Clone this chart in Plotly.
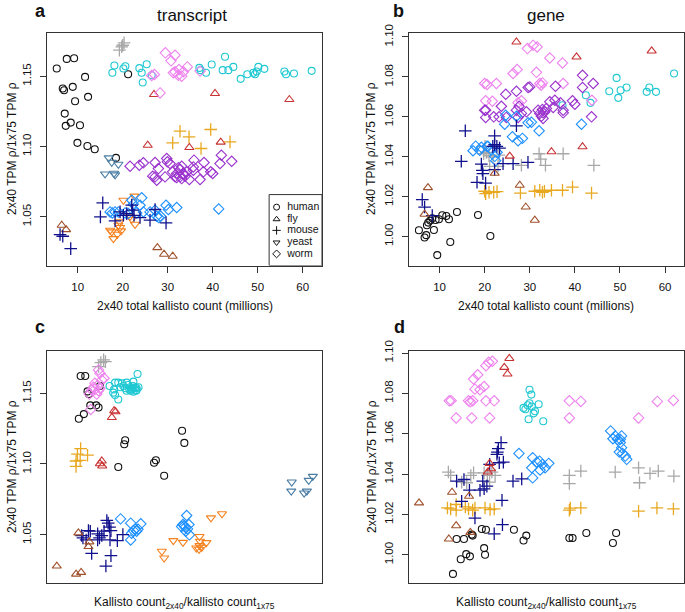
import plotly.graph_objects as go

# ---------------- data ----------------
# Panel a: transcript, x = 2x40 total kallisto count (millions), y = TPM rho ratio
a_human1_x = [5.33, 7.56, 9.19, 6.67, 6.96, 8.89, 11.63, 12.3, 9.41, 7.11, 8.44, 7.33, 10.5, 9.93, 12.15, 13.78, 18.5, 21.2]
a_human1_y = [1.1555, 1.1623, 1.1628, 1.1412, 1.1400, 1.1424, 1.1495, 1.1353, 1.1322, 1.1234, 1.1170, 1.1147, 1.1151, 1.1026, 1.1004, 1.0981, 1.0919, 1.1514]
a_human2_x = [17.70, 18.15, 20.15, 20.59, 23.70, 24.22, 25.33, 24.44, 26.44, 37.04, 37.33, 38.52, 39.78, 42.74, 42.22, 43.48, 44.59, 46.22, 47.70, 49.04, 49.41, 49.78, 50.15, 51.48, 55.93, 56.30, 58.07, 62.0]
a_human2_y = [1.1524, 1.1576, 1.1555, 1.1571, 1.1557, 1.1524, 1.1585, 1.1455, 1.1507, 1.1559, 1.1543, 1.1524, 1.1583, 1.1638, 1.1543, 1.1543, 1.1566, 1.1481, 1.1514, 1.1524, 1.1514, 1.1533, 1.1566, 1.1552, 1.1533, 1.1514, 1.1519, 1.1538]
a_fly1_x = [26.96, 40.52, 57.04, 25.56, 34.81, 41.78]
a_fly1_y = [1.1370, 1.1377, 1.1334, 1.1009, 1.0993, 1.1031]
a_fly2_x = [6.44, 7.41, 27.70, 29.19, 31.11]
a_fly2_y = [1.0440, 1.0409, 1.0281, 1.0234, 1.0220]
a_mouse1_x = [19.26, 19.78, 20.3, 20.0]
a_mouse1_y = [1.1685, 1.1709, 1.1737, 1.1720]
a_mouse2_x = [32.74, 34.74, 31.11, 39.56, 37.41, 43.85]
a_mouse2_y = [1.1109, 1.1069, 1.1026, 1.1121, 1.0986, 1.1033]
a_mouse3_x = [15.56, 15.04, 18.30, 19.41, 20.15, 22.0, 22.22, 22.52, 23.85, 26.07, 27.19, 29.63, 8.44, 6.67, 6.07, 20.89]
a_mouse3_y = [1.0599, 1.0500, 1.0471, 1.0535, 1.0511, 1.0583, 1.0547, 1.0511, 1.0495, 1.0476, 1.0552, 1.0457, 1.0274, 1.0362, 1.0374, 1.0523]
a_yeast1_x = [16.89, 17.56, 19.04, 16.07, 18.07, 18.3]
a_yeast1_y = [1.0919, 1.0888, 1.0874, 1.0805, 1.0810, 1.0798]
a_yeast2_x = [20.15, 22.59, 17.19, 17.56, 17.93, 19.04, 19.41, 19.63, 19.26, 21.63, 22.0, 22.74, 18.81]
a_yeast2_y = [1.0618, 1.0647, 1.0405, 1.0393, 1.0345, 1.0440, 1.0424, 1.0400, 1.0464, 1.0504, 1.0483, 1.0447, 1.0376]
a_worm1_x = [29.48, 31.63, 30.74, 34.37, 31.63, 32.52, 32.37, 33.11, 33.48, 31.26, 26.44, 27.04, 28.30, 37.19]
a_worm1_y = [1.1666, 1.1649, 1.1609, 1.1566, 1.1531, 1.1547, 1.1507, 1.1500, 1.1531, 1.1524, 1.1505, 1.1512, 1.1381, 1.1536]
a_worm2_x = [21.63, 23.70, 24.59, 27.19, 27.93, 29.78, 29.93, 30.52, 26.67, 27.56, 27.19, 29.41, 31.11, 32.37, 32.74, 33.11, 32.0, 31.63, 32.74, 33.48, 33.85, 34.22, 34.81, 35.70, 35.85, 35.70, 38.07, 37.93, 37.19, 39.56, 40.0, 41.93, 41.63, 44.22, 32.0, 33.11]
a_worm2_y = [1.0860, 1.0867, 1.0884, 1.0886, 1.0843, 1.0914, 1.0891, 1.0879, 1.0789, 1.0760, 1.0784, 1.0784, 1.0820, 1.0850, 1.0836, 1.0860, 1.0808, 1.0784, 1.0784, 1.0808, 1.0789, 1.0820, 1.0765, 1.0831, 1.0903, 1.0855, 1.0886, 1.0820, 1.0765, 1.0820, 1.0808, 1.0938, 1.0879, 1.0895, 1.0779, 1.0772]
a_worm3_x = [17.19, 17.70, 18.30, 19.04, 22.0, 22.37, 24.22, 23.85, 24.59, 26.07, 27.19, 27.56, 28.0, 28.44, 29.63, 30.15, 32.0, 41.33, 21.26, 23.11, 20.52]
a_worm3_y = [1.0535, 1.0528, 1.0535, 1.0535, 1.0618, 1.0590, 1.0635, 1.0582, 1.0535, 1.0535, 1.0547, 1.0504, 1.0495, 1.0504, 1.0582, 1.0552, 1.0566, 1.0556, 1.0523, 1.0528, 1.0528]

# Panel b: gene, same x
b_human1_x = [5.41, 6.67, 7.04, 9.48, 8.74, 7.19, 7.48, 7.93, 8.37, 9.11, 9.85, 10.59, 11.48, 12.07, 12.37, 13.85, 18.52, 21.26]
b_human1_y = [1.0032, 0.9995, 1.0007, 0.9907, 1.0033, 1.0057, 1.0070, 1.0080, 1.0092, 1.0083, 1.0087, 1.0107, 1.0103, 1.0087, 0.9973, 1.0123, 1.0108, 1.0003]
b_human2_x = [49.26, 47.63, 49.63, 50.15, 51.48, 56.52, 55.93, 58.0, 62.0, 42.44, 43.48, 37.26]
b_human2_y = [1.0795, 1.0728, 1.0695, 1.0733, 1.0747, 1.0747, 1.0725, 1.0725, 1.0817, 1.0708, 1.0670, 1.0658]
b_fly1_x = [27.04, 40.37, 57.04, 41.70, 34.81, 25.56]
b_fly1_y = [1.0975, 1.0900, 1.0930, 1.0450, 1.0425, 1.0403]
b_fly2_x = [22.22, 7.41, 27.78, 6.67, 29.11, 31.11]
b_fly2_y = [1.0317, 1.0245, 1.0257, 1.0112, 1.0148, 1.0082]
b_mouse1_x = [19.78, 20.37, 20.96, 21.85, 23.19, 21.11, 22.96, 28.15, 32.07, 32.44, 33.48, 37.41, 44.22, 20.07]
b_mouse1_y = [1.0415, 1.0422, 1.0405, 1.0398, 1.0408, 1.0352, 1.0352, 1.0357, 1.0415, 1.0388, 1.0357, 1.0415, 1.0357, 1.0452]
b_mouse2_x = [20.0, 20.22, 20.96, 22.0, 22.74, 27.93, 31.11, 32.22, 32.81, 33.26, 34.81, 37.26, 39.48, 43.7]
b_mouse2_y = [1.0227, 1.0215, 1.0222, 1.0222, 1.0225, 1.0218, 1.0227, 1.0232, 1.0222, 1.0227, 1.0232, 1.0232, 1.0248, 1.0218]
b_mouse3_x = [15.7, 27.04, 22.2, 22.2, 22.7, 23.3, 21.8, 14.81, 6.15, 6.67, 8.37, 18.3, 20.2, 19.26, 19.48, 19.6, 22.2, 24.07, 26.3, 29.6]
b_mouse3_y = [1.0530, 1.0555, 1.0505, 1.0460, 1.0452, 1.0443, 1.0452, 1.0377, 1.0185, 1.0148, 1.0105, 1.0272, 1.0268, 1.0363, 1.0332, 1.0315, 1.0335, 1.0365, 1.0365, 1.0372]
b_worm1_x = [29.48, 30.74, 31.63, 34.44, 37.26, 26.30, 27.19, 31.48, 20.0, 20.52, 22.59, 32.22, 32.81, 32.52, 37.41, 20.22, 21.70, 28.15, 27.41, 43.78]
b_worm1_y = [1.0942, 1.0958, 1.0950, 1.0895, 1.0870, 1.0817, 1.0837, 1.0823, 1.0767, 1.0762, 1.0767, 1.0767, 1.0770, 1.0758, 1.0767, 1.0680, 1.0678, 1.0680, 1.0670, 1.0683]
b_worm2_x = [41.70, 44.07, 41.70, 35.70, 30.0, 29.63, 27.04, 24.67, 23.70, 27.63, 20.0, 20.22, 22.0, 23.19, 27.04, 29.26, 28.15, 27.41, 31.85, 32.81, 33.33, 32.22, 32.59, 33.70, 34.44, 35.56, 36.81, 35.19, 39.48, 40.0, 37.41, 37.41, 43.70, 20.22, 24.81, 32.96, 32.96]
b_worm2_y = [1.0808, 1.0767, 1.0747, 1.0753, 1.0750, 1.0747, 1.0728, 1.0713, 1.0653, 1.0653, 1.0633, 1.0597, 1.0600, 1.0600, 1.0633, 1.0625, 1.0617, 1.0597, 1.0633, 1.0637, 1.0625, 1.0617, 1.0603, 1.0642, 1.0675, 1.0683, 1.0670, 1.0647, 1.0680, 1.0663, 1.0633, 1.0620, 1.0600, 1.0633, 1.0597, 1.0620, 1.0592]
b_worm3_x = [24.44, 24.67, 27.04, 29.63, 30.37, 32.07, 26.15, 27.41, 28.37, 41.48, 18.0, 20.52, 17.41, 18.89, 21.48, 22.22, 22.74, 22.44, 20.74, 19.26]
b_worm3_y = [1.0563, 1.0608, 1.0603, 1.0570, 1.0573, 1.0530, 1.0500, 1.0480, 1.0492, 1.0563, 1.0453, 1.0453, 1.0430, 1.0433, 1.0435, 1.0402, 1.0422, 1.0380, 1.0452, 1.0447]

# Panel c: transcript, x = kallisto count ratio 2x40 / 1x75
c_human1_x = [0.974, 0.984, 0.989, 0.992, 1.016, 1.008, 0.995, 1.013, 0.981, 0.970, 1.071, 1.069, 1.056, 1.134, 1.138, 1.156, 1.195, 1.200]
c_human1_y = [1.1623, 1.1623, 1.1514, 1.1495, 1.1552, 1.1415, 1.1415, 1.1400, 1.1353, 1.1320, 1.1168, 1.1140, 1.0979, 1.1009, 1.1026, 1.0917, 1.1235, 1.1149]
c_human2_x = [1.037, 1.049, 1.056, 1.064, 1.074, 1.078, 1.082, 1.085, 1.089, 1.093, 1.096, 1.098, 1.089, 1.047, 1.049, 1.056, 1.045, 1.071, 1.074, 1.089, 1.083, 1.096, 1.100, 1.067, 1.060, 1.080, 1.088, 1.095]
c_human2_y = [1.1552, 1.1576, 1.1576, 1.1571, 1.1576, 1.1559, 1.1543, 1.1528, 1.1536, 1.1543, 1.1536, 1.1637, 1.1583, 1.1528, 1.1488, 1.1457, 1.1505, 1.1536, 1.1519, 1.1512, 1.1519, 1.1524, 1.1543, 1.1552, 1.1543, 1.1528, 1.1552, 1.1519]
c_fly1_x = [1.047, 1.050, 1.042, 1.020, 1.016, 1.021]
c_fly1_y = [1.1377, 1.1370, 1.1329, 1.1021, 1.1002, 1.0986]
c_fly2_x = [0.922, 0.969, 0.993, 0.991, 0.964, 0.975]
c_fly2_y = [1.0277, 1.0512, 1.0448, 1.0415, 1.0220, 1.0232]
c_mouse1_x = [1.013, 1.018, 1.024, 1.028]
c_mouse1_y = [1.1690, 1.1718, 1.1737, 1.1725]
c_mouse2_x = [0.967, 0.974, 0.973, 0.964, 0.989, 0.964]
c_mouse2_y = [1.1069, 1.1109, 1.1026, 1.0983, 1.1062, 1.1021]
c_mouse3_x = [0.976, 0.991, 0.979, 0.986, 0.998, 1.011, 1.015, 1.011, 1.025, 1.031, 1.034, 1.037, 1.040, 1.020, 1.038, 1.054, 1.066, 1.040, 1.029, 0.995]
c_mouse3_y = [1.0493, 1.0528, 1.0476, 1.0462, 1.0367, 1.0505, 1.0476, 1.0462, 1.0524, 1.0600, 1.0581, 1.0552, 1.0528, 1.0493, 1.0462, 1.0457, 1.0500, 1.0351, 1.0277, 1.0524]
c_yeast1_x = [1.434, 1.433, 1.461, 1.467, 1.471, 1.480]
c_yeast1_y = [1.0872, 1.0808, 1.0794, 1.0808, 1.0884, 1.0912]
c_yeast2_x = [1.151, 1.156, 1.176, 1.197, 1.233, 1.234, 1.226, 1.232, 1.238, 1.248, 1.233, 1.258, 1.282]
c_yeast2_y = [1.0382, 1.0334, 1.0457, 1.0445, 1.0486, 1.0453, 1.0405, 1.0396, 1.0410, 1.0443, 1.0422, 1.0618, 1.0647]
c_worm1_x = [1.013, 1.016, 1.025, 1.005, 1.011, 1.002, 0.998, 1.013, 1.016, 0.993, 0.996, 1.009, 1.005, 1.020]
c_worm1_y = [1.1666, 1.1642, 1.1607, 1.1571, 1.1557, 1.1543, 1.1524, 1.1519, 1.1536, 1.1495, 1.1386, 1.1495, 1.1528, 1.1595]
c_worm3_x = [1.061, 1.083, 1.085, 1.089, 1.093, 1.096, 1.099, 1.105, 1.083, 1.205, 1.197, 1.202, 1.207, 1.210, 1.211, 1.194, 1.203, 1.200]
c_worm3_y = [1.0611, 1.0581, 1.0509, 1.0528, 1.0538, 1.0524, 1.0538, 1.0576, 1.0462, 1.0635, 1.0571, 1.0552, 1.0540, 1.0571, 1.0498, 1.0557, 1.0524, 1.0562]

# Panel d: gene, x = kallisto count ratio
d_human1_x = [0.997, 1.014, 1.026, 1.034, 1.038, 1.005, 1.021, 1.040, 1.060, 1.069, 1.067, 1.065, 1.130, 1.151, 1.157, 1.251, 1.258, 1.288, 1.346, 1.353]
d_human1_y = [0.9905, 0.9978, 1.0003, 0.9992, 1.0100, 1.0078, 1.0078, 1.0095, 1.0128, 1.0124, 1.0000, 1.0033, 1.0124, 1.0071, 1.0095, 1.0083, 1.0083, 1.0108, 1.0058, 1.0108]
d_human2_x = [1.164, 1.168, 1.151, 1.155, 1.160, 1.164, 1.169, 1.176, 1.184, 1.173, 1.162, 1.194]
d_human2_y = [1.0818, 1.0794, 1.0728, 1.0721, 1.0741, 1.0751, 1.0735, 1.0711, 1.0746, 1.0701, 1.0672, 1.0662]
d_fly1_x = [1.120, 1.109, 1.116, 1.077, 1.080, 1.073]
d_fly1_y = [1.0973, 1.0929, 1.0896, 1.0453, 1.0426, 1.0410]
d_fly2_x = [0.923, 0.995, 1.032, 1.004, 1.035, 0.988]
d_fly2_y = [1.0257, 1.0310, 1.0290, 1.0144, 1.0111, 1.0078]
d_mouse1_x = [0.987, 0.992, 1.016, 1.027, 1.042, 1.036, 1.065, 1.072, 1.082, 1.077, 1.089, 1.251, 1.251, 1.276, 1.351, 1.402, 1.404, 1.427, 1.445, 1.479]
d_mouse1_y = [1.0410, 1.0393, 1.0360, 1.0357, 1.0406, 1.0393, 1.0406, 1.0393, 1.0410, 1.0360, 1.0393, 1.0393, 1.0353, 1.0415, 1.0410, 1.0431, 1.0357, 1.0403, 1.0415, 1.0390]
d_mouse2_x = [0.985, 0.992, 1.004, 1.004, 1.024, 1.031, 1.040, 1.045, 1.067, 1.078, 1.087, 1.251, 1.253, 1.276, 1.402, 1.442, 1.478]
d_mouse2_y = [1.0232, 1.0227, 1.0249, 1.0221, 1.0237, 1.0227, 1.0221, 1.0232, 1.0232, 1.0224, 1.0227, 1.0221, 1.0231, 1.0232, 1.0216, 1.0232, 1.0227]
d_mouse3_x = [1.102, 1.096, 1.094, 1.093, 1.098, 1.107, 1.128, 1.147, 1.005, 1.021, 1.033, 1.016, 1.045, 1.056, 1.065, 1.071, 1.104, 1.105, 1.087, 1.062, 1.077]
d_mouse3_y = [1.0556, 1.0526, 1.0509, 1.0498, 1.0456, 1.0459, 1.0365, 1.0376, 1.0365, 1.0373, 1.0320, 1.0265, 1.0182, 1.0320, 1.0327, 1.0340, 1.0270, 1.0149, 1.0104, 1.0365, 1.0448]
d_worm1_x = [0.989, 0.993, 1.004, 1.031, 1.035, 1.040, 1.038, 1.042, 1.045, 1.051, 1.056, 1.065, 1.069, 1.075, 1.083, 1.069, 1.087, 1.077, 1.251, 1.276, 1.251, 1.402, 1.443, 1.478]
d_worm1_y = [1.0763, 1.0764, 1.0678, 1.0763, 1.0758, 1.0763, 1.0678, 1.0871, 1.0821, 1.0892, 1.0818, 1.0834, 1.0937, 1.0954, 1.0959, 1.0763, 1.0763, 1.0678, 1.0763, 1.0760, 1.0678, 1.0678, 1.0760, 1.0765]
d_worm3_x = [1.141, 1.171, 1.169, 1.171, 1.180, 1.186, 1.187, 1.192, 1.198, 1.206, 1.341, 1.346, 1.351, 1.356, 1.362, 1.365, 1.365, 1.362, 1.367, 1.373, 1.376, 1.360]
d_worm3_y = [1.0502, 1.0481, 1.0431, 1.0381, 1.0459, 1.0464, 1.0420, 1.0448, 1.0431, 1.0453, 1.0614, 1.0575, 1.0589, 1.0572, 1.0572, 1.0589, 1.0531, 1.0556, 1.0502, 1.0489, 1.0473, 1.0509]

legend_labels = ["human", "fly", "mouse", "yeast", "worm"]

# ---------------- styles ----------------
STY = {
    "human1": ("circle-open", 7, "#111111"),
    "human2": ("circle-open", 7, "#1EC8D2"),
    "fly1": ("triangle-up-open", 8, "#C83232"),
    "fly2": ("triangle-up-open", 8, "#A0522D"),
    "mouse1": ("cross-thin-open", 9, "#A8A8A8"),
    "mouse2": ("cross-thin-open", 9, "#E8A820"),
    "mouse3": ("cross-thin-open", 9, "#10108C"),
    "yeast1": ("triangle-down-open", 8, "#4A7DA3"),
    "yeast2": ("triangle-down-open", 8, "#F5821F"),
    "worm1": ("diamond-open", 8, "#EE82EE"),
    "worm2": ("diamond-open", 8, "#9A32CD"),
    "worm3": ("diamond-open", 8, "#1E90FF"),
}

fig = go.Figure()

def add(xa, ya, x, y, key):
    sym, size, col = STY[key]
    lw = 1.3 if sym.startswith("cross") else 1.1
    fig.add_trace(go.Scatter(
        x=x, y=y, xaxis=xa, yaxis=ya, mode="markers", showlegend=False, hoverinfo="skip",
        marker=dict(symbol=sym, size=size, color=col, line=dict(color=col, width=lw))))

panels = {
    ("x", "y"): [(a_human1_x, a_human1_y, "human1"), (a_human2_x, a_human2_y, "human2"),
                 (a_fly1_x, a_fly1_y, "fly1"), (a_fly2_x, a_fly2_y, "fly2"),
                 (a_mouse1_x, a_mouse1_y, "mouse1"), (a_mouse2_x, a_mouse2_y, "mouse2"),
                 (a_yeast1_x, a_yeast1_y, "yeast1"), (a_yeast2_x, a_yeast2_y, "yeast2"),
                 (a_worm1_x, a_worm1_y, "worm1"), (a_worm2_x, a_worm2_y, "worm2"),
                 (a_worm3_x, a_worm3_y, "worm3"), (a_mouse3_x, a_mouse3_y, "mouse3")],
    ("x2", "y2"): [(b_human1_x, b_human1_y, "human1"), (b_human2_x, b_human2_y, "human2"),
                   (b_mouse1_x, b_mouse1_y, "mouse1"), (b_mouse2_x, b_mouse2_y, "mouse2"),
                   (b_worm1_x, b_worm1_y, "worm1"), (b_worm2_x, b_worm2_y, "worm2"),
                   (b_worm3_x, b_worm3_y, "worm3"), (b_mouse3_x, b_mouse3_y, "mouse3"),
                   (b_fly1_x, b_fly1_y, "fly1"), (b_fly2_x, b_fly2_y, "fly2")],
    ("x3", "y3"): [(c_human1_x, c_human1_y, "human1"), (c_human2_x, c_human2_y, "human2"),
                   (c_mouse1_x, c_mouse1_y, "mouse1"), (c_mouse2_x, c_mouse2_y, "mouse2"),
                   (c_worm1_x, c_worm1_y, "worm1"), (c_worm3_x, c_worm3_y, "worm3"),
                   (c_yeast1_x, c_yeast1_y, "yeast1"), (c_yeast2_x, c_yeast2_y, "yeast2"),
                   (c_mouse3_x, c_mouse3_y, "mouse3"),
                   (c_fly1_x, c_fly1_y, "fly1"), (c_fly2_x, c_fly2_y, "fly2")],
    ("x4", "y4"): [(d_human1_x, d_human1_y, "human1"), (d_human2_x, d_human2_y, "human2"),
                   (d_mouse1_x, d_mouse1_y, "mouse1"), (d_mouse2_x, d_mouse2_y, "mouse2"),
                   (d_worm1_x, d_worm1_y, "worm1"), (d_worm3_x, d_worm3_y, "worm3"),
                   (d_mouse3_x, d_mouse3_y, "mouse3"),
                   (d_fly1_x, d_fly1_y, "fly1"), (d_fly2_x, d_fly2_y, "fly2")],
}
for (xa, ya), series in panels.items():
    for x, y, key in series:
        add(xa, ya, x, y, key)

# legend symbols in panel a (overlay axes with unit range)
leg_syms = ["circle-open", "triangle-up-open", "cross-thin-open", "triangle-down-open", "diamond-open"]
leg_y = [0.251, 0.199, 0.151, 0.099, 0.050]
fig.add_trace(go.Scatter(
    x=[0.835] * 5, y=leg_y, xaxis="x5", yaxis="y5", mode="markers+text", showlegend=False,
    hoverinfo="skip", text=["  " + t for t in legend_labels], textposition="middle right",
    textfont=dict(size=10.5, color="#111111", family="Liberation Sans, Arial, sans-serif"),
    marker=dict(symbol=leg_syms, size=6, color="#111111", line=dict(color="#111111", width=1))))

W, H = 685, 612
def fx(p): return p / W
def fy(p): return 1 - p / H

FONT = "Liberation Sans, Arial, Helvetica, sans-serif"
tickfont = dict(size=11.5, color="#111111", family=FONT)

box = dict(showline=True, mirror=True, linecolor="#333333", linewidth=1, showgrid=False,
           zeroline=False, ticks="outside", ticklen=6, tickcolor="#333333", tickwidth=1,
           tickfont=tickfont, automargin=False)

dom_ax = [fx(46.7), fx(322)]
dom_bx = [fx(408.5), fx(683.5)]
dom_top = [fy(265.5), fy(33)]
dom_bot = [fy(583), fy(351)]

fig.update_layout(
    width=W, height=H, margin=dict(l=0, r=0, t=0, b=0),
    paper_bgcolor="white", plot_bgcolor="rgba(0,0,0,0)", showlegend=False,
    font=dict(family=FONT, color="#111111"),
    xaxis=dict(domain=dom_ax, anchor="y", range=[3.1, 64.3], tickvals=[10, 20, 30, 40, 50, 60],
               ticklabelstandoff=5, **box),
    yaxis=dict(domain=dom_top, anchor="x", range=[1.0154, 1.1807], tickvals=[1.05, 1.10, 1.15],
               tickformat=".2f", tickangle=-90, ticklabelstandoff=4, **box),
    xaxis2=dict(domain=dom_bx, anchor="y2", range=[3.1, 64.1], tickvals=[10, 20, 30, 40, 50, 60],
                ticklabelstandoff=5, **box),
    yaxis2=dict(domain=dom_top, anchor="x2", range=[0.9855, 1.102],
                tickvals=[1.00, 1.02, 1.04, 1.06, 1.08, 1.10], tickformat=".2f", tickangle=-90,
                ticklabelstandoff=4, **box),
    xaxis3=dict(domain=dom_ax, anchor="y3", range=[0.9, 1.5], showticklabels=False,
                **{**box, "ticks": ""}),
    yaxis3=dict(domain=dom_bot, anchor="x3", range=[1.0157, 1.180], tickvals=[1.05, 1.10, 1.15],
                tickformat=".2f", tickangle=-90, ticklabelstandoff=4, **box),
    xaxis4=dict(domain=dom_bx, anchor="y4", range=[0.9, 1.5], showticklabels=False,
                **{**box, "ticks": ""}),
    yaxis4=dict(domain=dom_bot, anchor="x4", range=[0.986, 1.101],
                tickvals=[1.00, 1.02, 1.04, 1.06, 1.08, 1.10], tickformat=".2f", tickangle=-90,
                ticklabelstandoff=4, **box),
    xaxis5=dict(domain=dom_ax, anchor="y5", overlaying="x", range=[0, 1], visible=False),
    yaxis5=dict(domain=dom_top, anchor="x5", overlaying="y", range=[0, 1], visible=False),
)

# legend frame
fig.add_shape(type="rect", xref="x5", yref="y5", x0=0.808, x1=1.0, y0=0.0, y1=0.305,
              line=dict(color="#333333", width=1), fillcolor="rgba(0,0,0,0)")

ann = []
def text(x, y, s, size, bold=False, angle=0):
    ann.append(dict(x=fx(x), y=fy(y), xref="paper", yref="paper", text=("<b>%s</b>" % s) if bold else s,
                    showarrow=False, xanchor="center", yanchor="middle", textangle=angle,
                    font=dict(size=size, color="#111111", family=FONT)))

text(40, 11, "a", 18, bold=True)
text(398, 11, "b", 18, bold=True)
text(40, 327, "c", 18, bold=True)
text(399, 327, "d", 18, bold=True)
text(192, 15, "transcript", 17)
text(546, 15, "gene", 17)
text(184.5, 306, "2x40 total kallisto count (millions)", 12)
text(546, 306, "2x40 total kallisto count (millions)", 12)
text(184.5, 603, "Kallisto count<sub>2x40</sub>/kallisto count<sub>1x75</sub>", 12)
text(546, 603, "Kallisto count<sub>2x40</sub>/kallisto count<sub>1x75</sub>", 12)
ytitle = "2x40 TPM ρ/1x75 TPM ρ"
text(12, 149, ytitle, 12, angle=-90)
text(371, 149, ytitle, 12, angle=-90)
text(12, 467, ytitle, 12, angle=-90)
text(372, 467, ytitle, 12, angle=-90)
fig.update_layout(annotations=ann)

fig.write_html("out.html", config={"displayModeBar": False},
               post_script="document.body.style.margin='0px';document.body.style.padding='0px';"
                           "document.documentElement.style.overflow='hidden';")
